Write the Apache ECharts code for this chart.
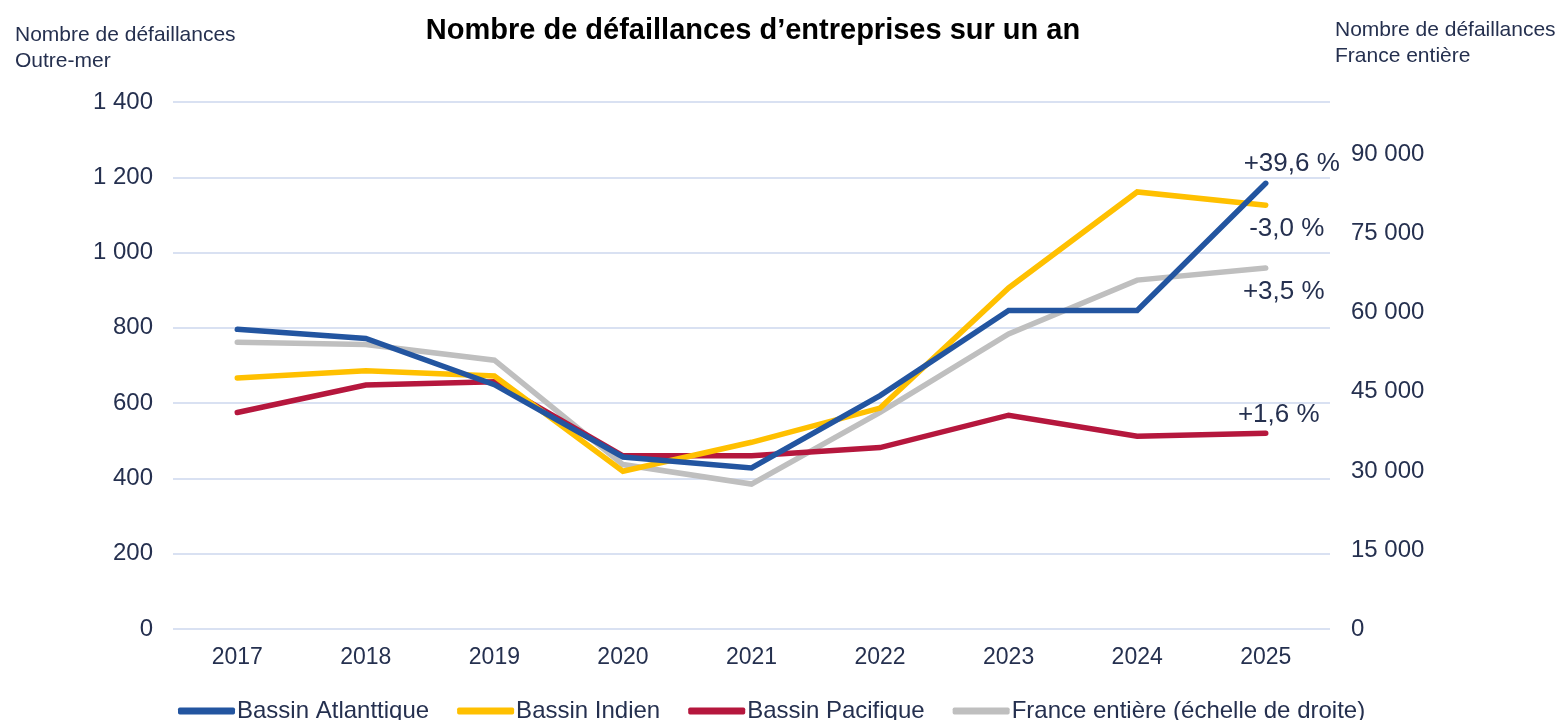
<!DOCTYPE html>
<html>
<head>
<meta charset="utf-8">
<script src="https://cdn.jsdelivr.net/npm/echarts@6/dist/echarts.min.js"></script>
<style>html,body{margin:0;padding:0;background:#fff;}#c{width:1565px;height:720px;}</style>
</head>
<body>
<div id="c"></div>
<script>
const years = ['2017','2018','2019','2020','2021','2022','2023','2024','2025'];
const atlantique = [796, 772, 649, 457, 428, 620, 846, 846, 1184];
const indien = [667, 686, 672, 419, 496, 587, 906, 1161, 1126];
const pacifique = [575, 648, 657, 460, 460, 482, 568, 512, 520];
const france = [54400, 54000, 51000, 31200, 27500, 41100, 56000, 66200, 68500];
const changeLabels = ['+39,6 %', '-3,0 %', '+1,6 %', '+3,5 %'];
const leftTicks = {min: 0, max: 1400, interval: 200};
const rightTicks = {min: 0, max: 100000, interval: 15000};

const TXT = '#25304f';
const FONT = 'Liberation Sans, Arial, sans-serif';
const fmt = v => String(v).replace(/\B(?=(\d{3})+(?!\d))/g, ' ');

function withEndLabel(arr, text, offset) {
  return arr.map((v, i) => i === arr.length - 1
    ? {value: v, label: {show: true, formatter: text, position: 'inside', offset: offset,
        fontSize: 26, color: TXT, fontFamily: FONT}}
    : v);
}
function lineSeries(name, data, color, yIdx, text, offset, z) {
  return {
    name: name, type: 'line', yAxisIndex: yIdx, z: z,
    data: withEndLabel(data, text, offset),
    showSymbol: true, symbol: 'circle', symbolSize: 0,
    itemStyle: {color: color},
    lineStyle: {color: color, width: 5.5, cap: 'round', join: 'miter'},
    emphasis: {disabled: true},
    animation: false
  };
}

const chart = echarts.init(document.getElementById('c'), null, {renderer: 'canvas'});
chart.setOption({
  backgroundColor: '#fff',
  animation: false,
  textStyle: {fontFamily: FONT},
  title: {
    text: 'Nombre de défaillances d’entreprises sur un an',
    left: 748, top: 11, textAlign: 'center',
    textStyle: {fontFamily: FONT, fontWeight: 'bold', fontSize: 29, color: '#000'}
  },
  graphic: [
    {type: 'text', left: 15, top: 22, style: {text: 'Nombre de défaillances\nOutre-mer', fill: TXT, font: '21px ' + FONT, lineHeight: 26}},
    {type: 'text', left: 1335, top: 17, style: {text: 'Nombre de défaillances\nFrance entière', fill: TXT, font: '21px ' + FONT, lineHeight: 26}}
  ],
  legend: {
    left: 173, top: 694, icon: 'roundRect', itemWidth: 57, itemHeight: 7, itemGap: 28,
    textStyle: {fontFamily: FONT, fontSize: 24, color: TXT, padding: [0, 0, 0, -3]},
    data: ['Bassin Atlanttique', 'Bassin Indien', 'Bassin Pacifique', 'France entière (échelle de droite)']
  },
  grid: {left: 173, right: 235, top: 102, bottom: 91, containLabel: false},
  xAxis: {
    type: 'category', data: years, boundaryGap: true,
    axisLine: {show: false}, axisTick: {show: false},
    axisLabel: {fontSize: 23, color: TXT, margin: 17, fontFamily: FONT}
  },
  yAxis: [
    {type: 'value', min: leftTicks.min, max: leftTicks.max, interval: leftTicks.interval,
     axisLine: {show: false}, axisTick: {show: false},
     splitLine: {lineStyle: {color: '#d9e1f2', width: 2}},
     axisLabel: {fontSize: 24, color: TXT, margin: 20, formatter: fmt, fontFamily: FONT}},
    {type: 'value', position: 'right', min: rightTicks.min, max: rightTicks.max, interval: rightTicks.interval,
     axisLine: {show: false}, axisTick: {show: false}, splitLine: {show: false},
     axisLabel: {fontSize: 24, color: TXT, margin: 21, formatter: fmt, showMaxLabel: false, fontFamily: FONT}}
  ],
  series: [
    lineSeries('France entière (échelle de droite)', france, '#bfbfbf', 1, changeLabels[3], [18, 24], 1),
    lineSeries('Bassin Pacifique', pacifique, '#b5173d', 0, changeLabels[2], [13, -18], 2),
    lineSeries('Bassin Indien', indien, '#ffc000', 0, changeLabels[1], [21, 24], 3),
    lineSeries('Bassin Atlanttique', atlantique, '#2355a0', 0, changeLabels[0], [26, -19], 4)
  ]
});
</script>
</body>
</html>
